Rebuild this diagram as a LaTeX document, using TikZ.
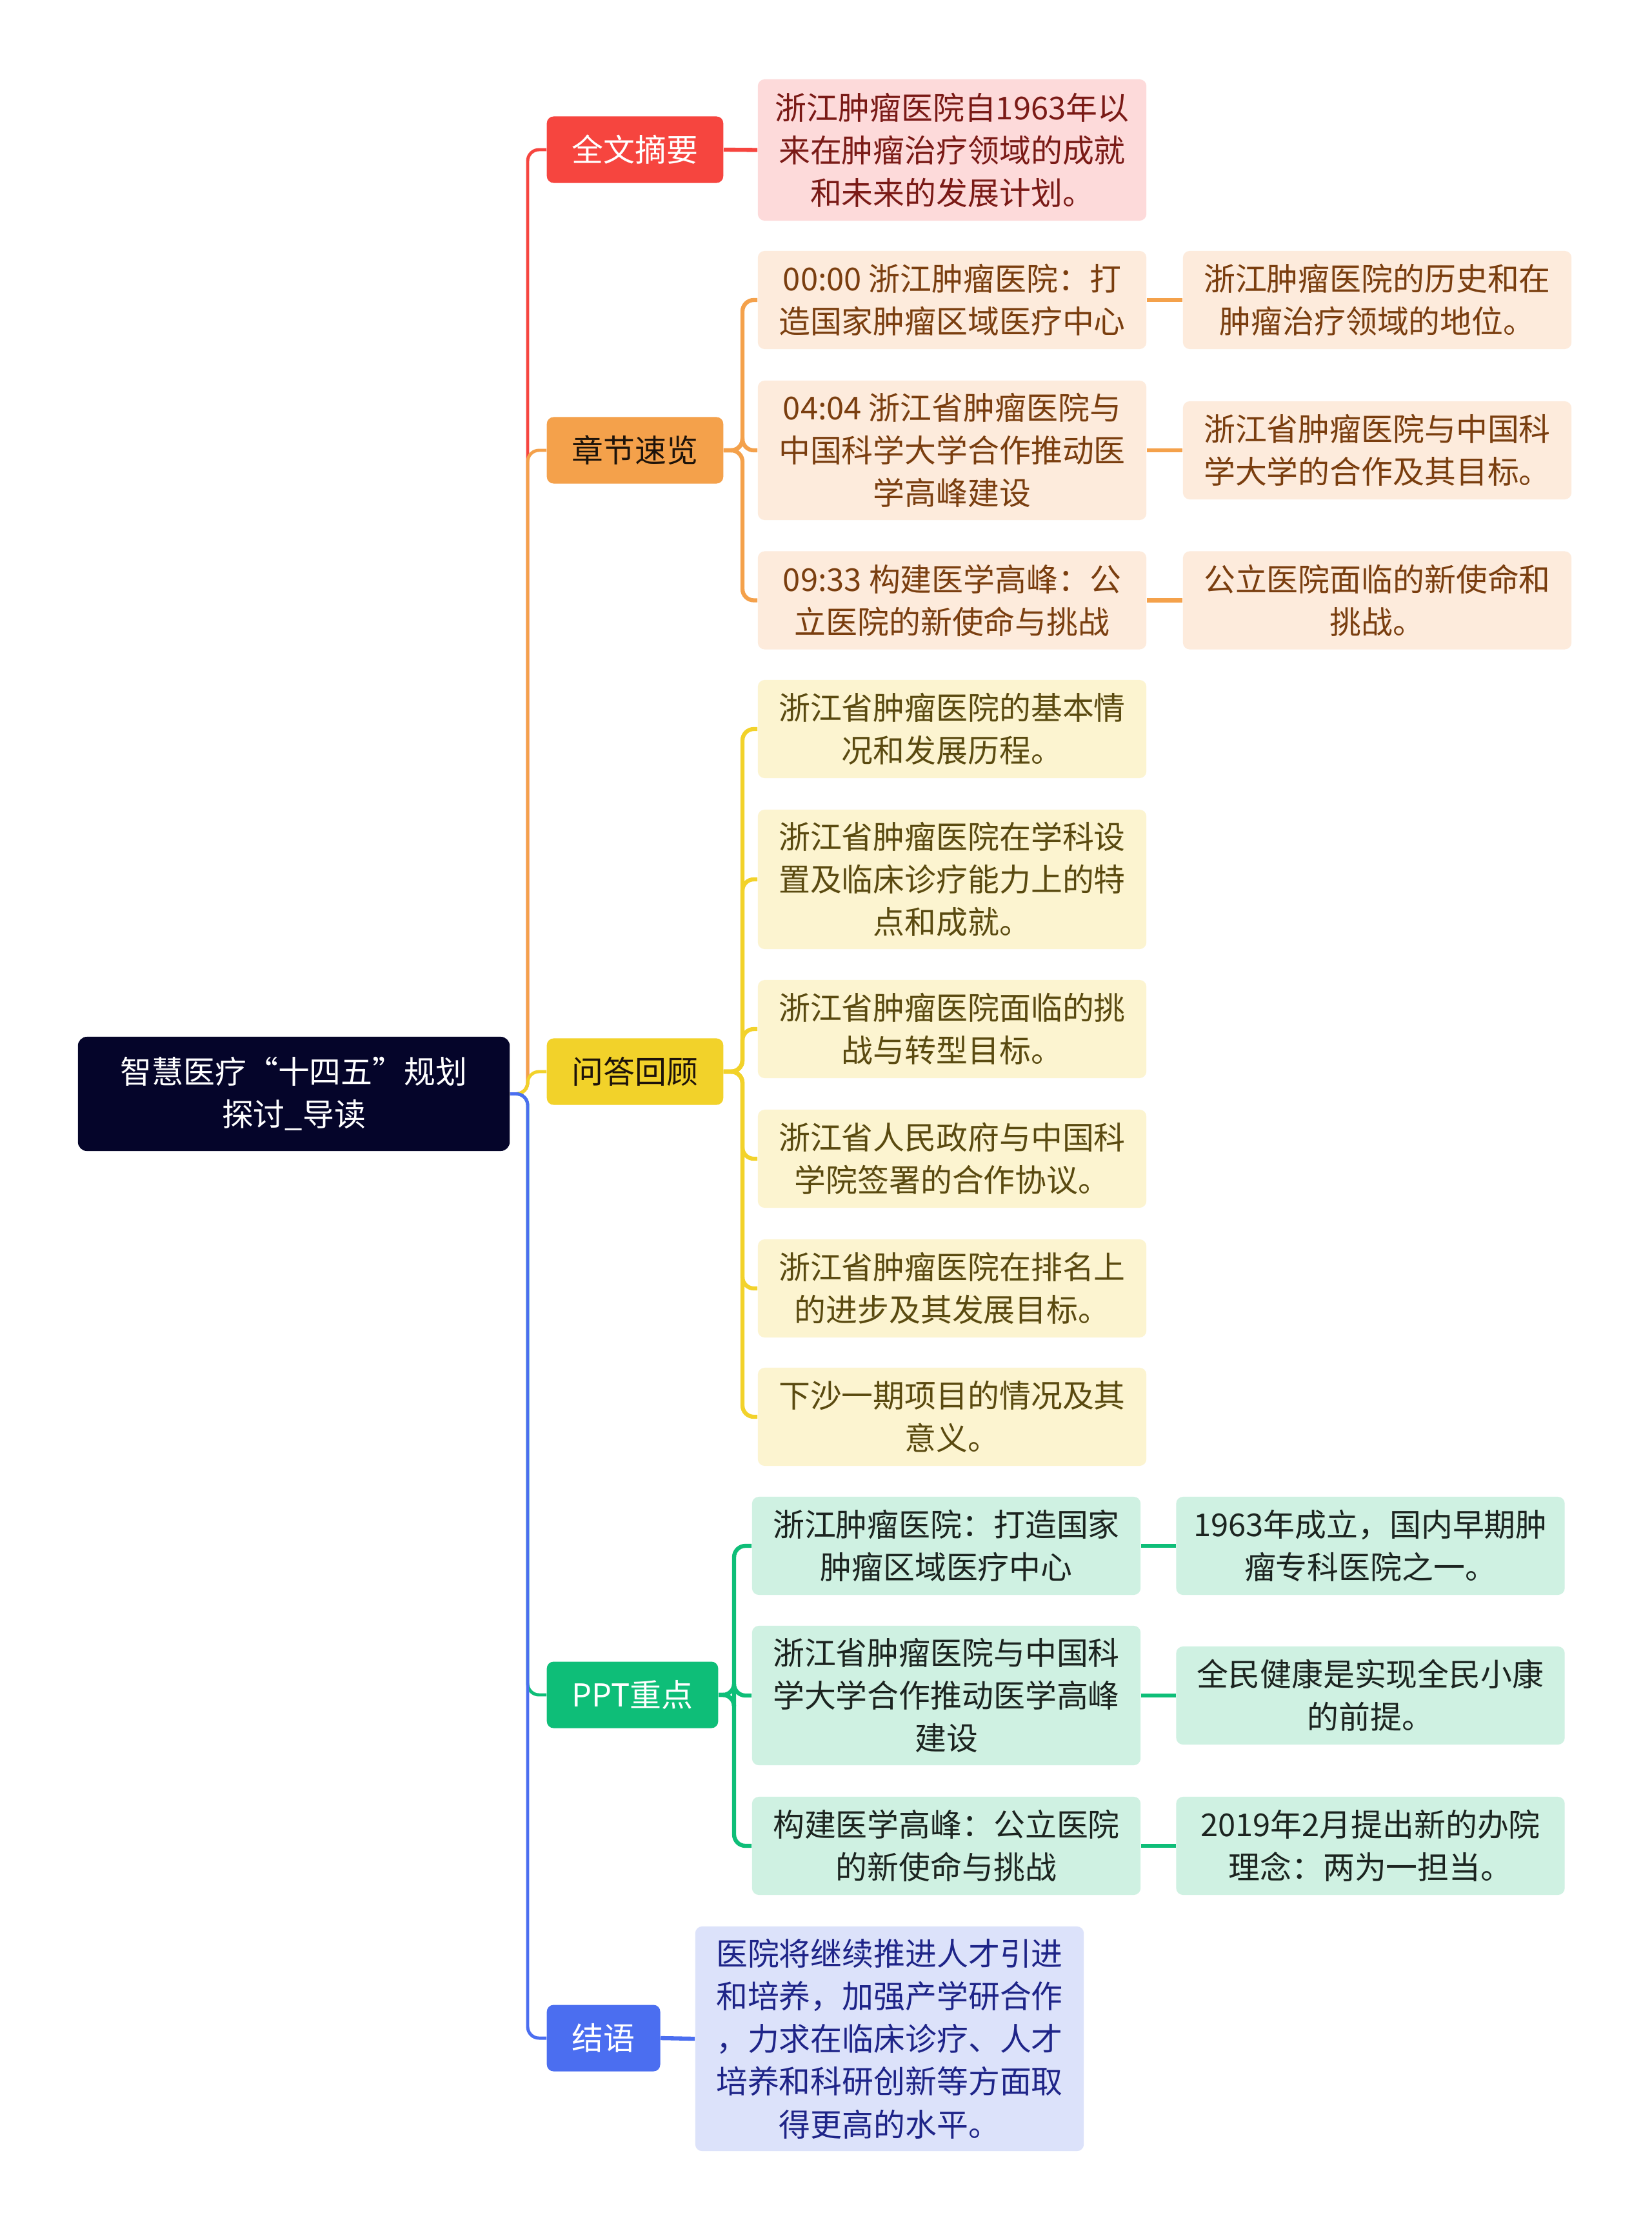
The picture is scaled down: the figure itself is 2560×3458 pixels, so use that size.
\documentclass[tikz,border=0pt]{standalone}
\usepackage{fontspec}
\newfontfamily\cjkfont{Noto Sans CJK SC}
\usepackage{xcolor}
\usetikzlibrary{positioning, calc}

\definecolor{rootnavy}{HTML}{05052A}
\definecolor{topred}{HTML}{F6453F}
\definecolor{toporange}{HTML}{F4A14B}
\definecolor{topyellow}{HTML}{F2D22A}
\definecolor{topgreen}{HTML}{0EBE78}
\definecolor{topblue}{HTML}{4B6EF0}
\definecolor{leafpink}{HTML}{FDDADA}
\definecolor{leafpeach}{HTML}{FDEBDC}
\definecolor{leafcream}{HTML}{FCF4D0}
\definecolor{leafmint}{HTML}{CFF1E2}
\definecolor{leaflilac}{HTML}{DCE2FA}
\definecolor{inkred}{HTML}{7A1A16}
\definecolor{inkbrown}{HTML}{7A3E0F}
\definecolor{inkolive}{HTML}{5A4A10}
\definecolor{inkdark}{HTML}{1C2420}
\definecolor{inknavy}{HTML}{1E2488}

\begin{document}
\begin{tikzpicture}[
    x=0.01cm, y=-0.01cm,
    font=\cjkfont\fontsize{13.9}{18.8}\selectfont,
    rootbox/.style={rectangle, rounded corners=4pt, fill=rootnavy, text=white, minimum width=6.69cm, minimum height=1.77cm, align=center},
    topic/.style={rectangle, rounded corners=3pt, anchor=west, inner xsep=0.39cm, minimum height=1.03cm, align=center},
    leaf/.style={rectangle, rounded corners=3pt, minimum width=6.02cm, minimum height=1.52cm, align=center},
    tall/.style={minimum height=2.16cm},
    trunk/.style={line width=1.4pt, rounded corners=5pt},
    twig/.style={line width=1.8pt, rounded corners=5pt}
]
\useasboundingbox[fill=white] (0,0) rectangle (2560,3458);

% Root
\node[rootbox] (root) at (455.5,1695.5) {智慧医疗“十四五”规划\\探讨\_导读};

% Main topics
\node[topic, fill=topred, text=white] (abst) at (847,232) {全文摘要};
\node[topic, fill=toporange, text=black!85!brown] (chap) at (847,698) {章节速览};
\node[topic, fill=topyellow, text=black!85!brown] (qa) at (847,1661) {问答回顾};
\node[topic, fill=topgreen, text=white] (ppt) at (847,2627) {PPT重点};
\node[topic, fill=topblue, text=white] (concl) at (847,3159) {结语};

% Branch 1: abstract
\node[leaf, tall, minimum height=2.19cm, fill=leafpink, text=inkred] (ab1) at (1476,232.5) {浙江肿瘤医院自1963年以\\来在肿瘤治疗领域的成就\\和未来的发展计划。};

% Branch 2: chapters
\node[leaf, fill=leafpeach, text=inkbrown] (ch1) at (1476,465) {00:00 浙江肿瘤医院：打\\造国家肿瘤区域医疗中心};
\node[leaf, tall, fill=leafpeach, text=inkbrown] (ch2) at (1476,698) {04:04 浙江省肿瘤医院与\\中国科学大学合作推动医\\学高峰建设};
\node[leaf, fill=leafpeach, text=inkbrown] (ch3) at (1476,930.5) {09:33 构建医学高峰：公\\立医院的新使命与挑战};
\node[leaf, fill=leafpeach, text=inkbrown] (chn1) at (2135,465) {浙江肿瘤医院的历史和在\\肿瘤治疗领域的地位。};
\node[leaf, fill=leafpeach, text=inkbrown] (chn2) at (2135,698) {浙江省肿瘤医院与中国科\\学大学的合作及其目标。};
\node[leaf, fill=leafpeach, text=inkbrown] (chn3) at (2135,930.5) {公立医院面临的新使命和\\挑战。};

% Branch 3: Q&A
\node[leaf, fill=leafcream, text=inkolive] (qa1) at (1476,1130) {浙江省肿瘤医院的基本情\\况和发展历程。};
\node[leaf, tall, fill=leafcream, text=inkolive] (qa2) at (1476,1363) {浙江省肿瘤医院在学科设\\置及临床诊疗能力上的特\\点和成就。};
\node[leaf, fill=leafcream, text=inkolive] (qa3) at (1476,1595) {浙江省肿瘤医院面临的挑\\战与转型目标。};
\node[leaf, fill=leafcream, text=inkolive] (qa4) at (1476,1796) {浙江省人民政府与中国科\\学院签署的合作协议。};
\node[leaf, fill=leafcream, text=inkolive] (qa5) at (1476,1997) {浙江省肿瘤医院在排名上\\的进步及其发展目标。};
\node[leaf, fill=leafcream, text=inkolive] (qa6) at (1476,2196) {下沙一期项目的情况及其\\意义。};

% Branch 4: slides
\node[leaf, fill=leafmint, text=inkdark] (pp1) at (1467,2396) {浙江肿瘤医院：打造国家\\肿瘤区域医疗中心};
\node[leaf, tall, fill=leafmint, text=inkdark] (pp2) at (1467,2628) {浙江省肿瘤医院与中国科\\学大学合作推动医学高峰\\建设};
\node[leaf, fill=leafmint, text=inkdark] (pp3) at (1467,2861) {构建医学高峰：公立医院\\的新使命与挑战};
\node[leaf, fill=leafmint, text=inkdark] (ppn1) at (2124.5,2396) {1963年成立，国内早期肿\\瘤专科医院之一。};
\node[leaf, fill=leafmint, text=inkdark] (ppn2) at (2124.5,2628) {全民健康是实现全民小康\\的前提。};
\node[leaf, fill=leafmint, text=inkdark] (ppn3) at (2124.5,2861) {2019年2月提出新的办院\\理念：两为一担当。};

% Branch 5: conclusion
\node[leaf, minimum height=3.48cm, fill=leaflilac, text=inknavy] (co1) at (1379,3160) {医院将继续推进人才引进\\和培养，加强产学研合作\\，力求在临床诊疗、人才\\培养和科研创新等方面取\\得更高的水平。};

% Trunk connectors
\coordinate (tx) at (818,0);
\draw[trunk, draw=topred] (root.east) -| (tx |- abst.west) -- (abst.west);
\draw[trunk, draw=toporange] (root.east) -| (tx |- chap.west) -- (chap.west);
\draw[trunk, draw=topyellow] (root.east) -| (tx |- qa.west) -- (qa.west);
\draw[trunk, draw=topgreen] (root.east) -| (tx |- ppt.west) -- (ppt.west);
\draw[trunk, draw=topblue] (root.east) -| (tx |- concl.west) -- (concl.west);

% Sub connectors
\coordinate (chx) at (1151,0);
\coordinate (qax) at (1151,0);
\coordinate (ppx) at (1138,0);
\draw[twig, draw=topred] (abst.east) -- (ab1.west);
\foreach \i in {1,2,3} {
    \draw[twig, draw=toporange] (chap.east) -| (chx |- ch\i.west) -- (ch\i.west);
    \draw[twig, draw=toporange] (ch\i.east) -- (chn\i.west);
    \draw[twig, draw=topgreen] (ppt.east) -| (ppx |- pp\i.west) -- (pp\i.west);
    \draw[twig, draw=topgreen] (pp\i.east) -- (ppn\i.west);
}
\foreach \i in {1,...,6}
    \draw[twig, draw=topyellow] (qa.east) -| (qax |- qa\i.west) -- (qa\i.west);
\draw[twig, draw=topblue] (concl.east) -- (co1.west);

\end{tikzpicture}
\end{document}
